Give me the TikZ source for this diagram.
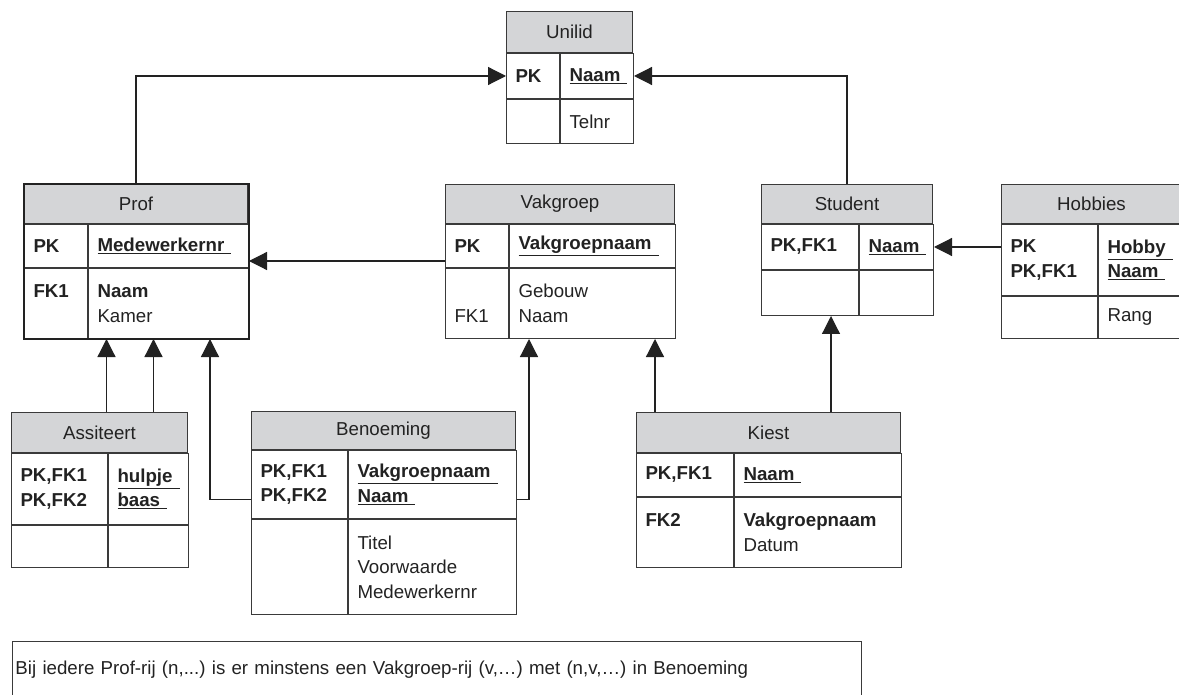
\documentclass[tikz,border=0pt]{standalone}
\usepackage{fontspec}
\setmainfont{Liberation Sans}
\usepackage{tikz}
\usetikzlibrary{arrows.meta,calc}
\frenchspacing
\definecolor{ink}{HTML}{222222}
\definecolor{rim}{HTML}{3A3A3A}
\definecolor{head}{HTML}{D4D5D7}
\newcommand{\keyattr}[1]{\underline{\textbf{#1}\hspace{7pt}}}
\tikzset{
  txt/.style={text=ink, font=\fontsize{18.7}{24.5}\selectfont},
  hdr/.style={txt, draw=rim, fill=head, line width=1pt, anchor=north west, minimum width=#1, inner sep=0pt},
  cell/.style={txt, draw=rim, line width=1pt, anchor=north west, minimum width=#1, text width=#1-18pt, inner xsep=9pt, inner ysep=0pt, align=left},
  fk/.style={draw=ink, line width=1.2pt, -{Triangle[length=18pt,width=18pt]}},
  outline/.style={draw=ink, line width=1.8pt},
  note/.style={txt, draw=rim, line width=1pt, anchor=north west, inner xsep=3pt, align=left},
}

\begin{document}
\begin{tikzpicture}[x=1pt, y=-1pt]
\clip (0,0) rectangle (1179,695);

% Unilid
\node[hdr=126pt, minimum height=41pt] (unilid) at (506,11) {Unilid};
\node[cell=53pt, minimum height=45pt] (uni-pk) at (unilid.south west) {\textbf{PK}};
\node[cell=73pt, minimum height=45pt] (uni-key) at (uni-pk.north east) {\keyattr{Naam}};
\node[cell=53pt, minimum height=44pt] (uni-fk) at (uni-pk.south west) {};
\node[cell=73pt, minimum height=44pt] (uni-at) at (uni-fk.north east) {Telnr};

% Prof
\node[hdr=223pt, minimum height=39pt] (prof) at (24,184) {Prof};
\node[cell=63pt, minimum height=43pt] (prof-pk) at (prof.south west) {\textbf{PK}};
\node[cell=160pt, minimum height=43pt] (prof-key) at (prof-pk.north east) {\keyattr{Medewerkernr}};
\node[cell=63pt, minimum height=70pt] (prof-fk) at (prof-pk.south west) {\textbf{FK1}\\\phantom{Kamer}};
\node[cell=160pt, minimum height=70pt] (prof-at) at (prof-fk.north east) {\textbf{Naam}\\Kamer};
\draw[outline] (prof.north west) rectangle (prof-at.south east);

% Vakgroep
\node[hdr=229pt, minimum height=39pt] (vak) at (445,184) {Vakgroep};
\node[cell=63pt, minimum height=43pt] (vak-pk) at (vak.south west) {\textbf{PK}};
\node[cell=166pt, minimum height=43pt] (vak-key) at (vak-pk.north east) {\keyattr{Vakgroepnaam}};
\node[cell=63pt, minimum height=70pt] (vak-fk) at (vak-pk.south west) {\phantom{Gebouw}\\FK1};
\node[cell=166pt, minimum height=70pt] (vak-at) at (vak-fk.north east) {Gebouw\\Naam};

% Student
\node[hdr=171pt, minimum height=39pt] (student) at (761,184) {Student};
\node[cell=97pt, minimum height=45pt] (stud-pk) at (student.south west) {\textbf{PK,FK1}};
\node[cell=74pt, minimum height=45pt] (stud-key) at (stud-pk.north east) {\keyattr{Naam}};
\node[cell=97pt, minimum height=45pt] (stud-fk) at (stud-pk.south west) {};
\node[cell=74pt, minimum height=45pt] (stud-at) at (stud-fk.north east) {};

% Hobbies
\node[hdr=180pt, minimum height=39pt] (hobbies) at (1001,184) {Hobbies};
\node[cell=96pt, minimum height=71pt] (hob-pk) at (hobbies.south west) {\textbf{PK}\\\textbf{PK,FK1}};
\node[cell=84pt, minimum height=71pt] (hob-key) at (hob-pk.north east) {\keyattr{Hobby}\\\keyattr{Naam}};
\node[cell=96pt, minimum height=42pt] (hob-fk) at (hob-pk.south west) {};
\node[cell=84pt, minimum height=42pt] (hob-at) at (hob-fk.north east) {Rang};

% Assiteert
\node[hdr=176pt, minimum height=40pt] (ass) at (11,412) {Assiteert};
\node[cell=96pt, minimum height=71pt] (ass-pk) at (ass.south west) {\textbf{PK,FK1}\\\textbf{PK,FK2}};
\node[cell=80pt, minimum height=71pt] (ass-key) at (ass-pk.north east) {\keyattr{hulpje}\\\keyattr{baas}};
\node[cell=96pt, minimum height=42pt] (ass-fk) at (ass-pk.south west) {};
\node[cell=80pt, minimum height=42pt] (ass-at) at (ass-fk.north east) {};

% Benoeming
\node[hdr=264pt, minimum height=38pt] (ben) at (251,411) {Benoeming};
\node[cell=96pt, minimum height=68pt] (ben-pk) at (ben.south west) {\textbf{PK,FK1}\\\textbf{PK,FK2}};
\node[cell=168pt, minimum height=68pt] (ben-key) at (ben-pk.north east) {\keyattr{Vakgroepnaam}\\\keyattr{Naam}};
\node[cell=96pt, minimum height=95pt] (ben-fk) at (ben-pk.south west) {};
\node[cell=168pt, minimum height=95pt] (ben-at) at (ben-fk.north east) {Titel\\Voorwaarde\\Medewerkernr};

% Kiest
\node[hdr=264pt, minimum height=40pt] (kiest) at (636,412) {Kiest};
\node[cell=97pt, minimum height=43pt] (kiest-pk) at (kiest.south west) {\textbf{PK,FK1}};
\node[cell=167pt, minimum height=43pt] (kiest-key) at (kiest-pk.north east) {\keyattr{Naam}};
\node[cell=97pt, minimum height=70pt] (kiest-fk) at (kiest-pk.south west) {\textbf{FK2}\\\phantom{Datum}};
\node[cell=167pt, minimum height=70pt] (kiest-at) at (kiest-fk.north east) {\textbf{Vakgroepnaam}\\Datum};

% regel
\node[note, minimum width=849pt, minimum height=56pt, text width=843pt] (regel) at (12,641)
  {Bij iedere Prof-rij (n,...) is er minstens een Vakgroep-rij (v,…) met (n,v,…) in Benoeming};

% verwijzingen
\coordinate (as1) at ([xshift=7pt]ass.north);
\coordinate (as2) at ([xshift=54pt]ass.north);
\coordinate (ki1) at ([xshift=19pt]kiest.north west);
\coordinate (ki2) at ([xshift=195pt]kiest.north west);
\draw[fk] (prof.north) |- (uni-pk.west);
\draw[fk] (student.north) |- (uni-key.east);
\draw[fk] ([yshift=7pt]vak-pk.south west) -- ([yshift=7pt]prof-key.south east);
\draw[fk] (hob-pk.west |- stud-key.east) -- (stud-key.east);
\draw[fk] (as1) -- (as1 |- prof-fk.south);
\draw[fk] (as2) -- (as2 |- prof-at.south);
\draw[fk] ([yshift=-15pt]ben-pk.west) -| ([xshift=122pt]prof-at.south west);
\draw[fk] ([yshift=-15pt]ben-key.east) -| ([xshift=20pt]vak-at.south west);
\draw[fk] (ki1) -- (ki1 |- vak-at.south);
\draw[fk] (ki2) -- (ki2 |- stud-at.south);
\end{tikzpicture}
\end{document}
